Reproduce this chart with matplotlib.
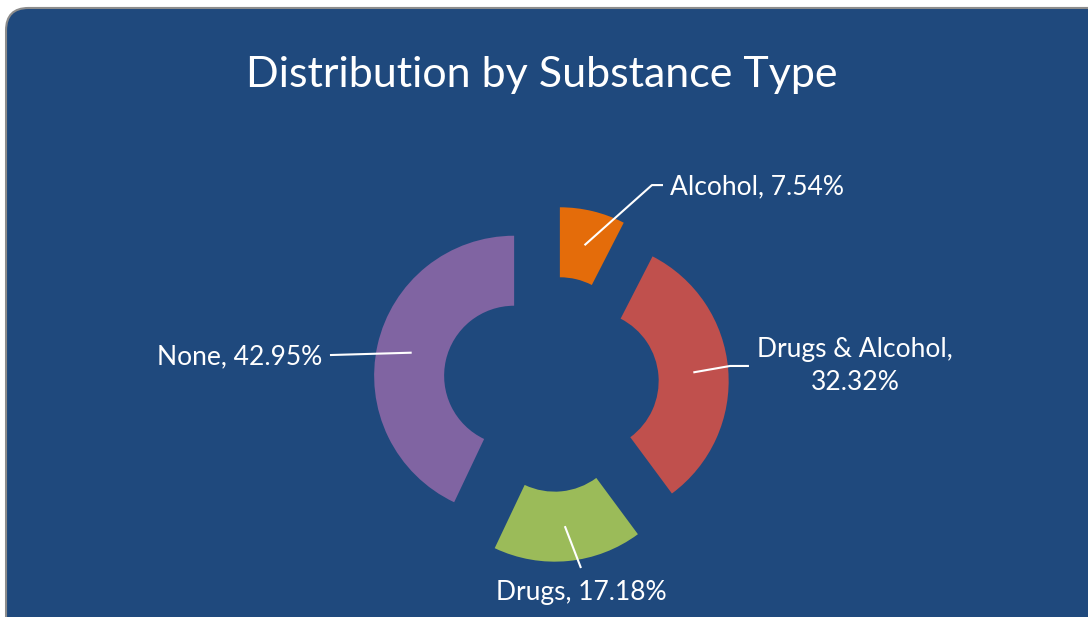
import numpy as np
import matplotlib
matplotlib.use("Agg")
import matplotlib.pyplot as plt
from matplotlib.patches import FancyBboxPatch

# data
categories = ["Alcohol", "Drugs & Alcohol", "Drugs", "None"]
shares = [7.54, 32.32, 17.18, 42.95]
colors = ["#E46C0A", "#C0504D", "#9BBB59", "#8064A2"]
label_texts = ["Alcohol, 7.54%", "Drugs & Alcohol,\n32.32%", "Drugs, 17.18%", "None, 42.95%"]

BG = "#1F497D"
EXPLODE = 0.27
HOLE = 0.5

plt.rcParams['font.family'] = ['Lato', 'DejaVu Sans']

fig = plt.figure(figsize=(10.88, 6.17), dpi=100)
fig.patch.set_facecolor("white")
ax = fig.add_axes([0, 0, 1, 1])

wedges, _ = ax.pie(shares, colors=colors, startangle=90, counterclock=False,
                   explode=[EXPLODE] * len(shares), radius=1.0,
                   wedgeprops=dict(width=HOLE, edgecolor="none"),
                   normalize=True)
for w in wedges:
    w.set_zorder(2)

# pie() resets the view, so set limits afterwards (1 unit = 140 px)
ax.set_aspect("auto")
ax.set_xlim(-3.936, 3.836)
ax.set_ylim(-1.664, 2.743)
ax.axis("off")

# rounded dark panel
panel = FancyBboxPatch((-3.893, -2.0), 8.0, 2.0 + 2.686,
                       boxstyle="round,pad=0,rounding_size=0.16",
                       facecolor=BG, edgecolor="#8c8c8c", linewidth=1.5,
                       zorder=0, clip_on=False)
ax.add_patch(panel)

# label layout: text anchor, elbow points of the leader, alignment
label_pos = [(0.85, 1.41), (2.171, 0.129), (0.214, -1.49), (-1.636, 0.193)]
leader_bends = [[(0.721, 1.421), (0.80, 1.421)],
                [(1.279, 0.129), (1.414, 0.129)],
                [(0.214, -1.314)],
                [(-1.579, 0.207)]]
aligns = ["left", "center", "center", "right"]

for w, txt, pos, bends, ha in zip(wedges, label_texts, label_pos, leader_bends, aligns):
    mid = np.deg2rad((w.theta1 + w.theta2) / 2)
    cx, cy = w.center
    r_mid = 1.0 - HOLE / 2
    start = (cx + r_mid * np.cos(mid), cy + r_mid * np.sin(mid))
    pts = [start] + bends
    xs, ys = zip(*pts)
    ax.plot(xs, ys, color="white", lw=1.5, zorder=3, solid_capstyle="butt")
    ax.text(pos[0], pos[1], txt, color="white", fontsize=19, ha=ha, va="center",
            multialignment="center", linespacing=1.4, zorder=4)

fig.text(542 / 1088, 1 - 75 / 617, "Distribution by Substance Type", color="white",
         fontsize=31, ha="center", va="center")

fig.savefig("out.png", dpi=100, facecolor=fig.get_facecolor())
